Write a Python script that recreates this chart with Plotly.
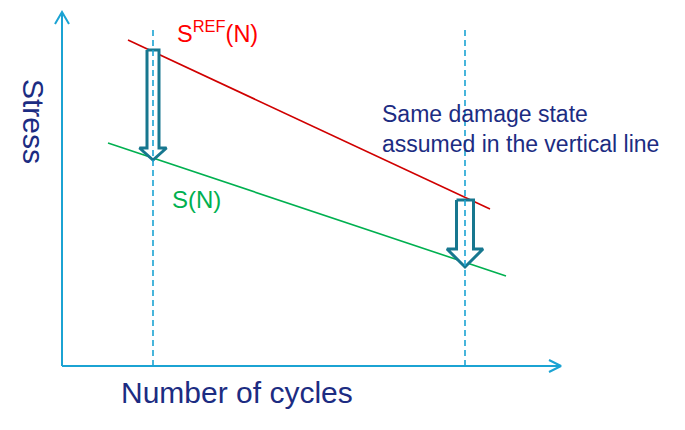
import plotly.graph_objects as go

# Schematic values (pixel-like coordinate space, y grows downward)
sref_x = [128, 490]
sref_y = [40, 209]
sn_x = [108, 506]
sn_y = [143, 276]
vline_x = [153, 465]
vline_top = 30
axis_origin = [62, 366]
axis_end_x = 561
axis_end_y = 12
arrow_x = [153, 465]
arrow_top = [50, 200]
arrow_tip = [160, 267]
arrow_shaft_half = [6, 8.5]
arrow_head_half = [13.5, 18]
arrow_head_len = [12, 18]

AXIS_C = "#1ba3d3"
NAVY = "#1c2c82"
TEAL = "#17778f"
FONT = "Liberation Sans, Arial, sans-serif"
PAGE_OFFSET = 8  # browser body margin

fig = go.Figure()

# axes lines
ox, oy = axis_origin
fig.add_trace(go.Scatter(x=[ox, ox], y=[oy, axis_end_y], mode="lines",
                         line=dict(color=AXIS_C, width=2), hoverinfo="skip"))
fig.add_trace(go.Scatter(x=[ox, axis_end_x], y=[oy, oy], mode="lines",
                         line=dict(color=AXIS_C, width=2), hoverinfo="skip"))
# axis arrowheads (open chevrons)
fig.add_trace(go.Scatter(x=[ox - 7, ox, ox + 7], y=[axis_end_y + 12, axis_end_y, axis_end_y + 12],
                         mode="lines", line=dict(color=AXIS_C, width=2), hoverinfo="skip"))
fig.add_trace(go.Scatter(x=[axis_end_x - 12, axis_end_x, axis_end_x - 12], y=[oy - 6, oy, oy + 6],
                         mode="lines", line=dict(color=AXIS_C, width=2), hoverinfo="skip"))

# S-N lines
fig.add_trace(go.Scatter(x=sref_x, y=sref_y, mode="lines",
                         line=dict(color="#d00000", width=1.6), hoverinfo="skip"))
fig.add_trace(go.Scatter(x=sn_x, y=sn_y, mode="lines",
                         line=dict(color="#00b050", width=1.6), hoverinfo="skip"))

# block arrows (hollow)
for cx, top, tip, sh, hh, hl in zip(arrow_x, arrow_top, arrow_tip,
                                     arrow_shaft_half, arrow_head_half, arrow_head_len):
    base = tip - hl
    xs = [cx - sh, cx + sh, cx + sh, cx + hh, cx, cx - hh, cx - sh, cx - sh]
    ys = [top, top, base, base, tip, base, base, top]
    fig.add_trace(go.Scatter(x=xs, y=ys, mode="lines", fill="toself",
                             fillcolor="white", line=dict(color=TEAL, width=3),
                             hoverinfo="skip"))

# dashed vertical lines
for vx in vline_x:
    fig.add_trace(go.Scatter(x=[vx, vx], y=[vline_top, oy], mode="lines",
                             line=dict(color=AXIS_C, width=1.6, dash="6px,4px"),
                             hoverinfo="skip"))

ann = [
    dict(x=34, y=121, text="Stress", textangle=90, font=dict(size=30, color=NAVY)),
    dict(x=237, y=392, text="Number of cycles", font=dict(size=30, color=NAVY)),
    dict(x=217, y=32, text="S<sup>REF</sup>(N)", font=dict(size=23.5, color="#ff0000")),
    dict(x=196, y=199, text="S(N)", font=dict(size=24, color="#00b050")),
    dict(x=380, y=129, text="Same damage state<br>assumed in the vertical line",
         align="left", xanchor="left", font=dict(size=23, color=NAVY)),
]
for a in ann:
    a.setdefault("xanchor", "center")
    a.update(xref="x", yref="y", showarrow=False, yanchor="middle")
    a["font"]["family"] = FONT
fig.update_layout(annotations=ann)

fig.update_layout(
    width=685, height=430, margin=dict(l=0, r=0, t=0, b=0),
    paper_bgcolor="white", plot_bgcolor="white", showlegend=False,
    xaxis=dict(range=[PAGE_OFFSET, 685 + PAGE_OFFSET], visible=False, fixedrange=True),
    yaxis=dict(range=[430 + PAGE_OFFSET, PAGE_OFFSET], visible=False, fixedrange=True),
)

fig.write_html("out.html")
